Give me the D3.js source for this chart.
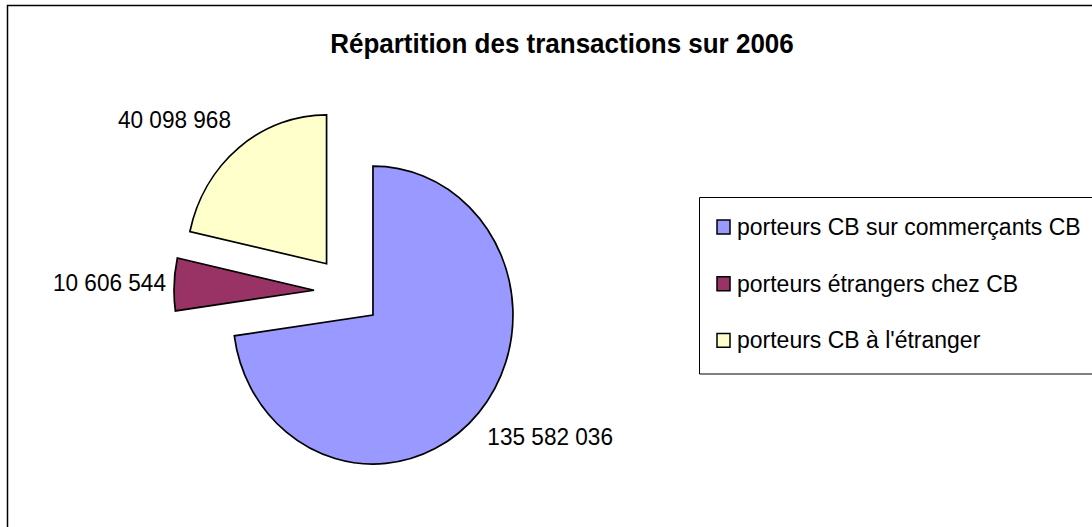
<!DOCTYPE html>
<html>
<head>
<meta charset="utf-8">
<script src="https://cdn.jsdelivr.net/npm/d3@7"></script>
<style>
  html, body { margin: 0; padding: 0; background: #fff; }
  svg { display: block; }
  text { font-family: Arial, "Liberation Sans", sans-serif; fill: #000; }
</style>
</head>
<body>
<svg id="chart" width="1092" height="527"></svg>
<script>
const title = "Répartition des transactions sur 2006";
const categories = ["porteurs CB sur commerçants CB", "porteurs étrangers chez CB", "porteurs CB à l'étranger"];
const values = [135582036, 10606544, 40098968];
const valueLabels = ["135 582 036", "10 606 544", "40 098 968"];
const colors = ["#9999FF", "#993366", "#FFFFCC"];

const W = 1092, H = 527;
const ky = 1.064; // vertical stretch of the original picture
const svg = d3.select("#chart");

// outer frame (extends past right/bottom edges)
svg.append("rect").attr("x", 7.5).attr("y", 5.5).attr("width", 1200).attr("height", 700)
  .attr("fill", "#fff").attr("stroke", "#000").attr("stroke-width", 1.5);

const g = svg.append("g").attr("transform", `scale(1,${ky})`);

g.append("text").attr("x", 562).attr("y", 49.5).attr("text-anchor", "middle")
  .attr("font-weight", "bold").attr("font-size", 26).text(title);

const cx = 347.6, cy = 274.1, r = 140, explode = 33.6;
const pie = d3.pie().sort(null).value(d => d).startAngle(0).endAngle(2 * Math.PI);
const arcs = pie(values);
const arc = d3.arc().innerRadius(0).outerRadius(r);

const pieG = g.append("g").attr("transform", `translate(${cx},${cy})`);
pieG.selectAll("path").data(arcs).join("path")
  .attr("transform", d => {
    const a = (d.startAngle + d.endAngle) / 2;
    return `translate(${explode * Math.sin(a)},${-explode * Math.cos(a)})`;
  })
  .attr("d", arc)
  .attr("fill", (d, i) => colors[i])
  .attr("stroke", "#000").attr("stroke-width", 1.7)
  .attr("vector-effect", "non-scaling-stroke")
  .attr("stroke-linejoin", "miter");

// data labels
const labelPos = [
  {x: 613, y: 445, anchor: "end"},
  {x: 166, y: 291, anchor: "end"},
  {x: 231, y: 127.7, anchor: "end"}
];
g.selectAll("text.lbl").data(arcs).join("text").attr("class", "lbl")
  .attr("x", (d, i) => labelPos[i].x)
  .attr("y", (d, i) => labelPos[i].y / ky)
  .attr("text-anchor", (d, i) => labelPos[i].anchor)
  .attr("font-size", 22.6)
  .text((d, i) => valueLabels[i]);

// legend
const lg = g.append("g");
lg.append("rect").attr("x", 699.5).attr("y", 197.5 / ky).attr("width", 500).attr("height", (374 - 197.5) / ky)
  .attr("fill", "#fff").attr("stroke", "#000").attr("stroke-width", 1)
  .attr("vector-effect", "non-scaling-stroke");
const legY = [235, 291.7, 348.3];
const items = lg.selectAll("g.item").data(categories).join("g").attr("class", "item")
  .attr("transform", (d, i) => `translate(0,${legY[i] / ky})`);
items.append("rect").attr("x", 717).attr("y", -14).attr("width", 13).attr("height", 13)
  .attr("fill", (d, i) => colors[i]).attr("stroke", "#000").attr("stroke-width", 1.5)
  .attr("vector-effect", "non-scaling-stroke");
items.append("text").attr("x", 737).attr("y", 0).attr("font-size", 23).text(d => d);
</script>
</body>
</html>
